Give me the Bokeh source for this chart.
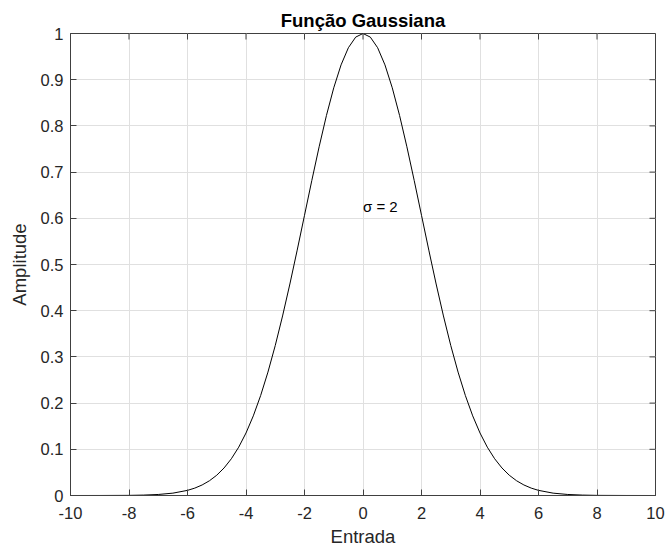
import math
from bokeh.plotting import figure
from bokeh.models import FixedTicker, Range1d, Label
from bokeh.embed import file_html
from bokeh.resources import INLINE

x_vals = [-10, -9, -8, -7.5, -7, -6.5, -6, -5.75, -5.5, -5.25, -5, -4.75, -4.5, -4.25,
          -4, -3.75, -3.5, -3.25, -3, -2.75, -2.5, -2.25, -2, -1.75, -1.5, -1.25, -1,
          -0.75, -0.5, -0.25, 0, 0.25, 0.5, 0.75, 1, 1.25, 1.5, 1.75, 2, 2.25, 2.5,
          2.75, 3, 3.25, 3.5, 3.75, 4, 4.25, 4.5, 4.75, 5, 5.25, 5.5, 5.75, 6, 6.5,
          7, 7.5, 8, 9, 10]
y_vals = [0.0, 0.00004, 0.0003, 0.0009, 0.0022, 0.0051, 0.0111, 0.0160, 0.0228, 0.0319,
          0.0439, 0.0596, 0.0796, 0.1046, 0.1353, 0.1724, 0.2163, 0.2671, 0.3247, 0.3886,
          0.4578, 0.5311, 0.6065, 0.6819, 0.7548, 0.8226, 0.8825, 0.9321, 0.9692, 0.9922,
          1.0, 0.9922, 0.9692, 0.9321, 0.8825, 0.8226, 0.7548, 0.6819, 0.6065, 0.5311,
          0.4578, 0.3886, 0.3247, 0.2671, 0.2163, 0.1724, 0.1353, 0.1046, 0.0796, 0.0596,
          0.0439, 0.0319, 0.0228, 0.0160, 0.0111, 0.0051, 0.0022, 0.0009, 0.0003, 0.00004,
          0.0]

x_ticks = [-10, -8, -6, -4, -2, 0, 2, 4, 6, 8, 10]
x_tick_labels = ["-10", "-8", "-6", "-4", "-2", "0", "2", "4", "6", "8", "10"]
y_ticks = [0, 0.1, 0.2, 0.3, 0.4, 0.5, 0.6, 0.7, 0.8, 0.9, 1]
y_tick_labels = ["0", "0.1", "0.2", "0.3", "0.4", "0.5", "0.6", "0.7", "0.8", "0.9", "1"]
x_min, x_max = -10, 10
y_min, y_max = 0, 1

title_text = "Função Gaussiana"
x_label = "Entrada"
y_label = "Amplitude"
annot_x = 0.0
annot_y = 0.625
annot_text = "σ = 2"

FONT = "Liberation Sans"
TXT = "#262626"
AX = "#404040"
TICK_LEN = 6

p = figure(width=666, height=550, output_backend="svg", toolbar_location=None,
           x_range=Range1d(x_min, x_max), y_range=Range1d(y_min, y_max),
           min_border_left=70, min_border_right=11, min_border_top=33, min_border_bottom=55)
p.title.text = title_text
p.title.align = "center"
p.title.text_font = FONT
p.title.text_font_size = "18.5px"
p.title.text_font_style = "bold"
p.title.text_color = "#000000"
p.title.offset = 0
p.title.standoff = 5

p.outline_line_color = AX
p.outline_line_width = 1
p.background_fill_color = "white"
p.border_fill_color = "white"

p.xgrid.ticker = FixedTicker(ticks=x_ticks)
p.ygrid.ticker = FixedTicker(ticks=y_ticks)
for g in (p.xgrid[0], p.ygrid[0]):
    g.grid_line_color = "#e0e0e0"
    g.grid_line_width = 1

p.line(x_vals, y_vals, line_color="#000000", line_width=1)

# axes
xa = p.xaxis[0]
ya = p.yaxis[0]
xa.ticker = FixedTicker(ticks=x_ticks)
ya.ticker = FixedTicker(ticks=y_ticks)
xa.major_label_overrides = {t: l for t, l in zip(x_ticks, x_tick_labels)}
ya.major_label_overrides = {t: l for t, l in zip(y_ticks, y_tick_labels)}
for ax in (xa, ya):
    ax.major_tick_in = TICK_LEN
    ax.major_tick_out = 0
    ax.minor_tick_in = 0
    ax.minor_tick_out = 0
    ax.axis_line_color = AX
    ax.major_tick_line_color = AX
    ax.major_label_text_font = FONT
    ax.major_label_text_font_size = "16.5px"
    ax.major_label_text_color = TXT
    ax.axis_label_text_font = FONT
    ax.axis_label_text_font_size = "18.5px"
    ax.axis_label_text_font_style = "normal"
    ax.axis_label_text_color = TXT
xa.axis_label = x_label
ya.axis_label = y_label
xa.major_label_standoff = 11
ya.major_label_standoff = 7
xa.axis_label_standoff = 4
ya.axis_label_standoff = 8

# inward ticks on the top and right edges of the box
p.ray(x=x_ticks, y=[y_max] * len(x_ticks), length=TICK_LEN, length_units="screen",
      angle=-math.pi / 2, line_color=AX, line_width=1)
p.ray(x=[x_max] * len(y_ticks), y=y_ticks, length=TICK_LEN, length_units="screen",
      angle=math.pi, line_color=AX, line_width=1)

lab = Label(x=annot_x, y=annot_y, text=annot_text, text_font=FONT, text_font_size="15px",
            text_color="#000000", text_baseline="middle", text_align="left")
p.add_layout(lab)

open("out.html", "w").write(file_html(p, INLINE))
